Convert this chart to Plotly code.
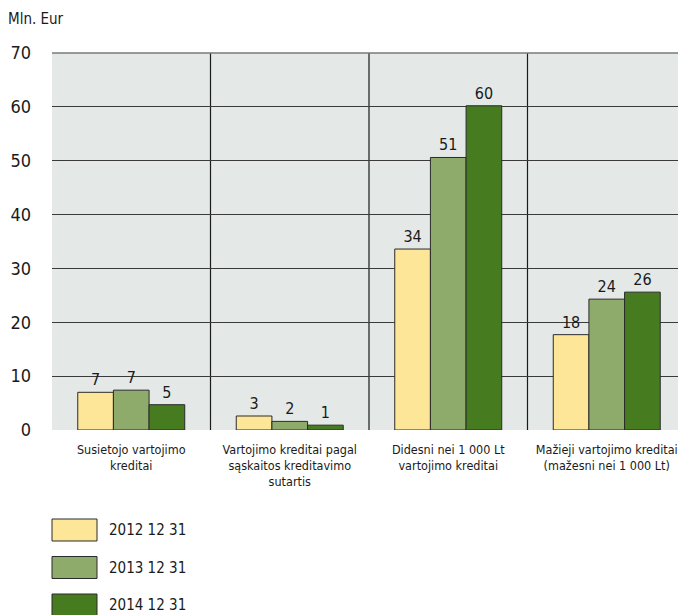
import plotly.graph_objects as go

categories = [
    "Susietojo vartojimo<br>kreditai",
    "Vartojimo kreditai pagal<br>sąskaitos kreditavimo<br>sutartis",
    "Didesni nei 1 000 Lt<br>vartojimo kreditai",
    "Mažieji vartojimo kreditai<br>(mažesni nei 1 000 Lt)",
]
series_names = ["2012 12 31", "2013 12 31", "2014 12 31"]
values_2012 = [7.0, 2.6, 33.6, 17.7]
values_2013 = [7.4, 1.6, 50.6, 24.3]
values_2014 = [4.7, 0.9, 60.2, 25.6]
series_values = [values_2012, values_2013, values_2014]
colors = ["#fee699", "#8fab6c", "#467b1f"]
y_ticks = [0, 10, 20, 30, 40, 50, 60, 70]

FONT = "DejaVu Sans Condensed, Liberation Sans Narrow, sans-serif"
OFF = 8  # page body margin
W, H = 686 - OFF, 615 - OFF
M_L, M_R, M_T, M_B = 52 - OFF, 0, 53 - OFF, H - (430 - OFF)

fig = go.Figure()
for name, vals, col in zip(series_names, series_values, colors):
    fig.add_trace(go.Bar(
        x=categories, y=vals, name=name,
        marker=dict(color=col, line=dict(color="#2a2a2a", width=1)),
        text=[f"{round(v):d}" for v in vals],
        textposition="outside",
        textfont=dict(size=16, color="#1a1a1a", family=FONT),
        cliponaxis=False,
        showlegend=False,
    ))

shapes = []
# vertical separators between categories
for i in range(len(categories) - 1):
    shapes.append(dict(type="line", xref="x", yref="paper", x0=i + 0.5, x1=i + 0.5,
                       y0=0, y1=1, line=dict(color="#1a1a1a", width=1.2), layer="below"))
# lighter top border line
shapes.append(dict(type="line", xref="paper", yref="paper", x0=0, x1=1, y0=1, y1=1,
                   line=dict(color="#7a7a7a", width=1.5)))

# custom legend below plot (positions given in screenshot pixels)
plot_h = H - M_T - M_B
plot_w = W - M_L - M_R
def py_to_paper(py):
    return (H - M_B - (py - OFF)) / plot_h
def px_to_paper(px):
    return ((px - OFF) - M_L) / plot_w

annotations = []
for k, (name, col) in enumerate(zip(series_names, colors)):
    top = 519 + k * 37.5
    shapes.append(dict(type="rect", xref="paper", yref="paper",
                       x0=px_to_paper(52), x1=px_to_paper(97),
                       y0=py_to_paper(top + 22), y1=py_to_paper(top),
                       fillcolor=col, line=dict(color="#2a2a2a", width=1)))
    annotations.append(dict(xref="paper", yref="paper", x=px_to_paper(107),
                            y=py_to_paper(top + 11), text=name, showarrow=False,
                            xanchor="left", yanchor="middle",
                            font=dict(size=15, color="#1a1a1a", family=FONT)))

annotations.append(dict(xref="paper", yref="paper", x=px_to_paper(6), y=py_to_paper(19),
                        text="Mln. Eur", showarrow=False, xanchor="left", yanchor="middle",
                        font=dict(size=15, color="#1a1a1a", family=FONT)))

fig.update_layout(
    width=W, height=H,
    margin=dict(l=M_L, r=M_R, t=M_T, b=M_B),
    paper_bgcolor="white",
    plot_bgcolor="#e4e9e8",
    barmode="group",
    bargap=0.325,
    bargroupgap=0,
    font=dict(family=FONT, size=12.5, color="#1a1a1a"),
    shapes=shapes,
    annotations=annotations,
    showlegend=False,
)
fig.update_xaxes(showgrid=False, ticks="", tickfont=dict(size=12.5, family=FONT),
                 showline=False, zeroline=False, automargin=False, ticklabelstandoff=10)
fig.update_yaxes(range=[0, 70], tickvals=y_ticks, showgrid=True, gridcolor="#3a3a3a",
                 gridwidth=1, zeroline=False, showline=False, ticks="", automargin=False,
                 tickfont=dict(size=18, family=FONT), ticklabelstandoff=20)

fig.write_html("out.html")
